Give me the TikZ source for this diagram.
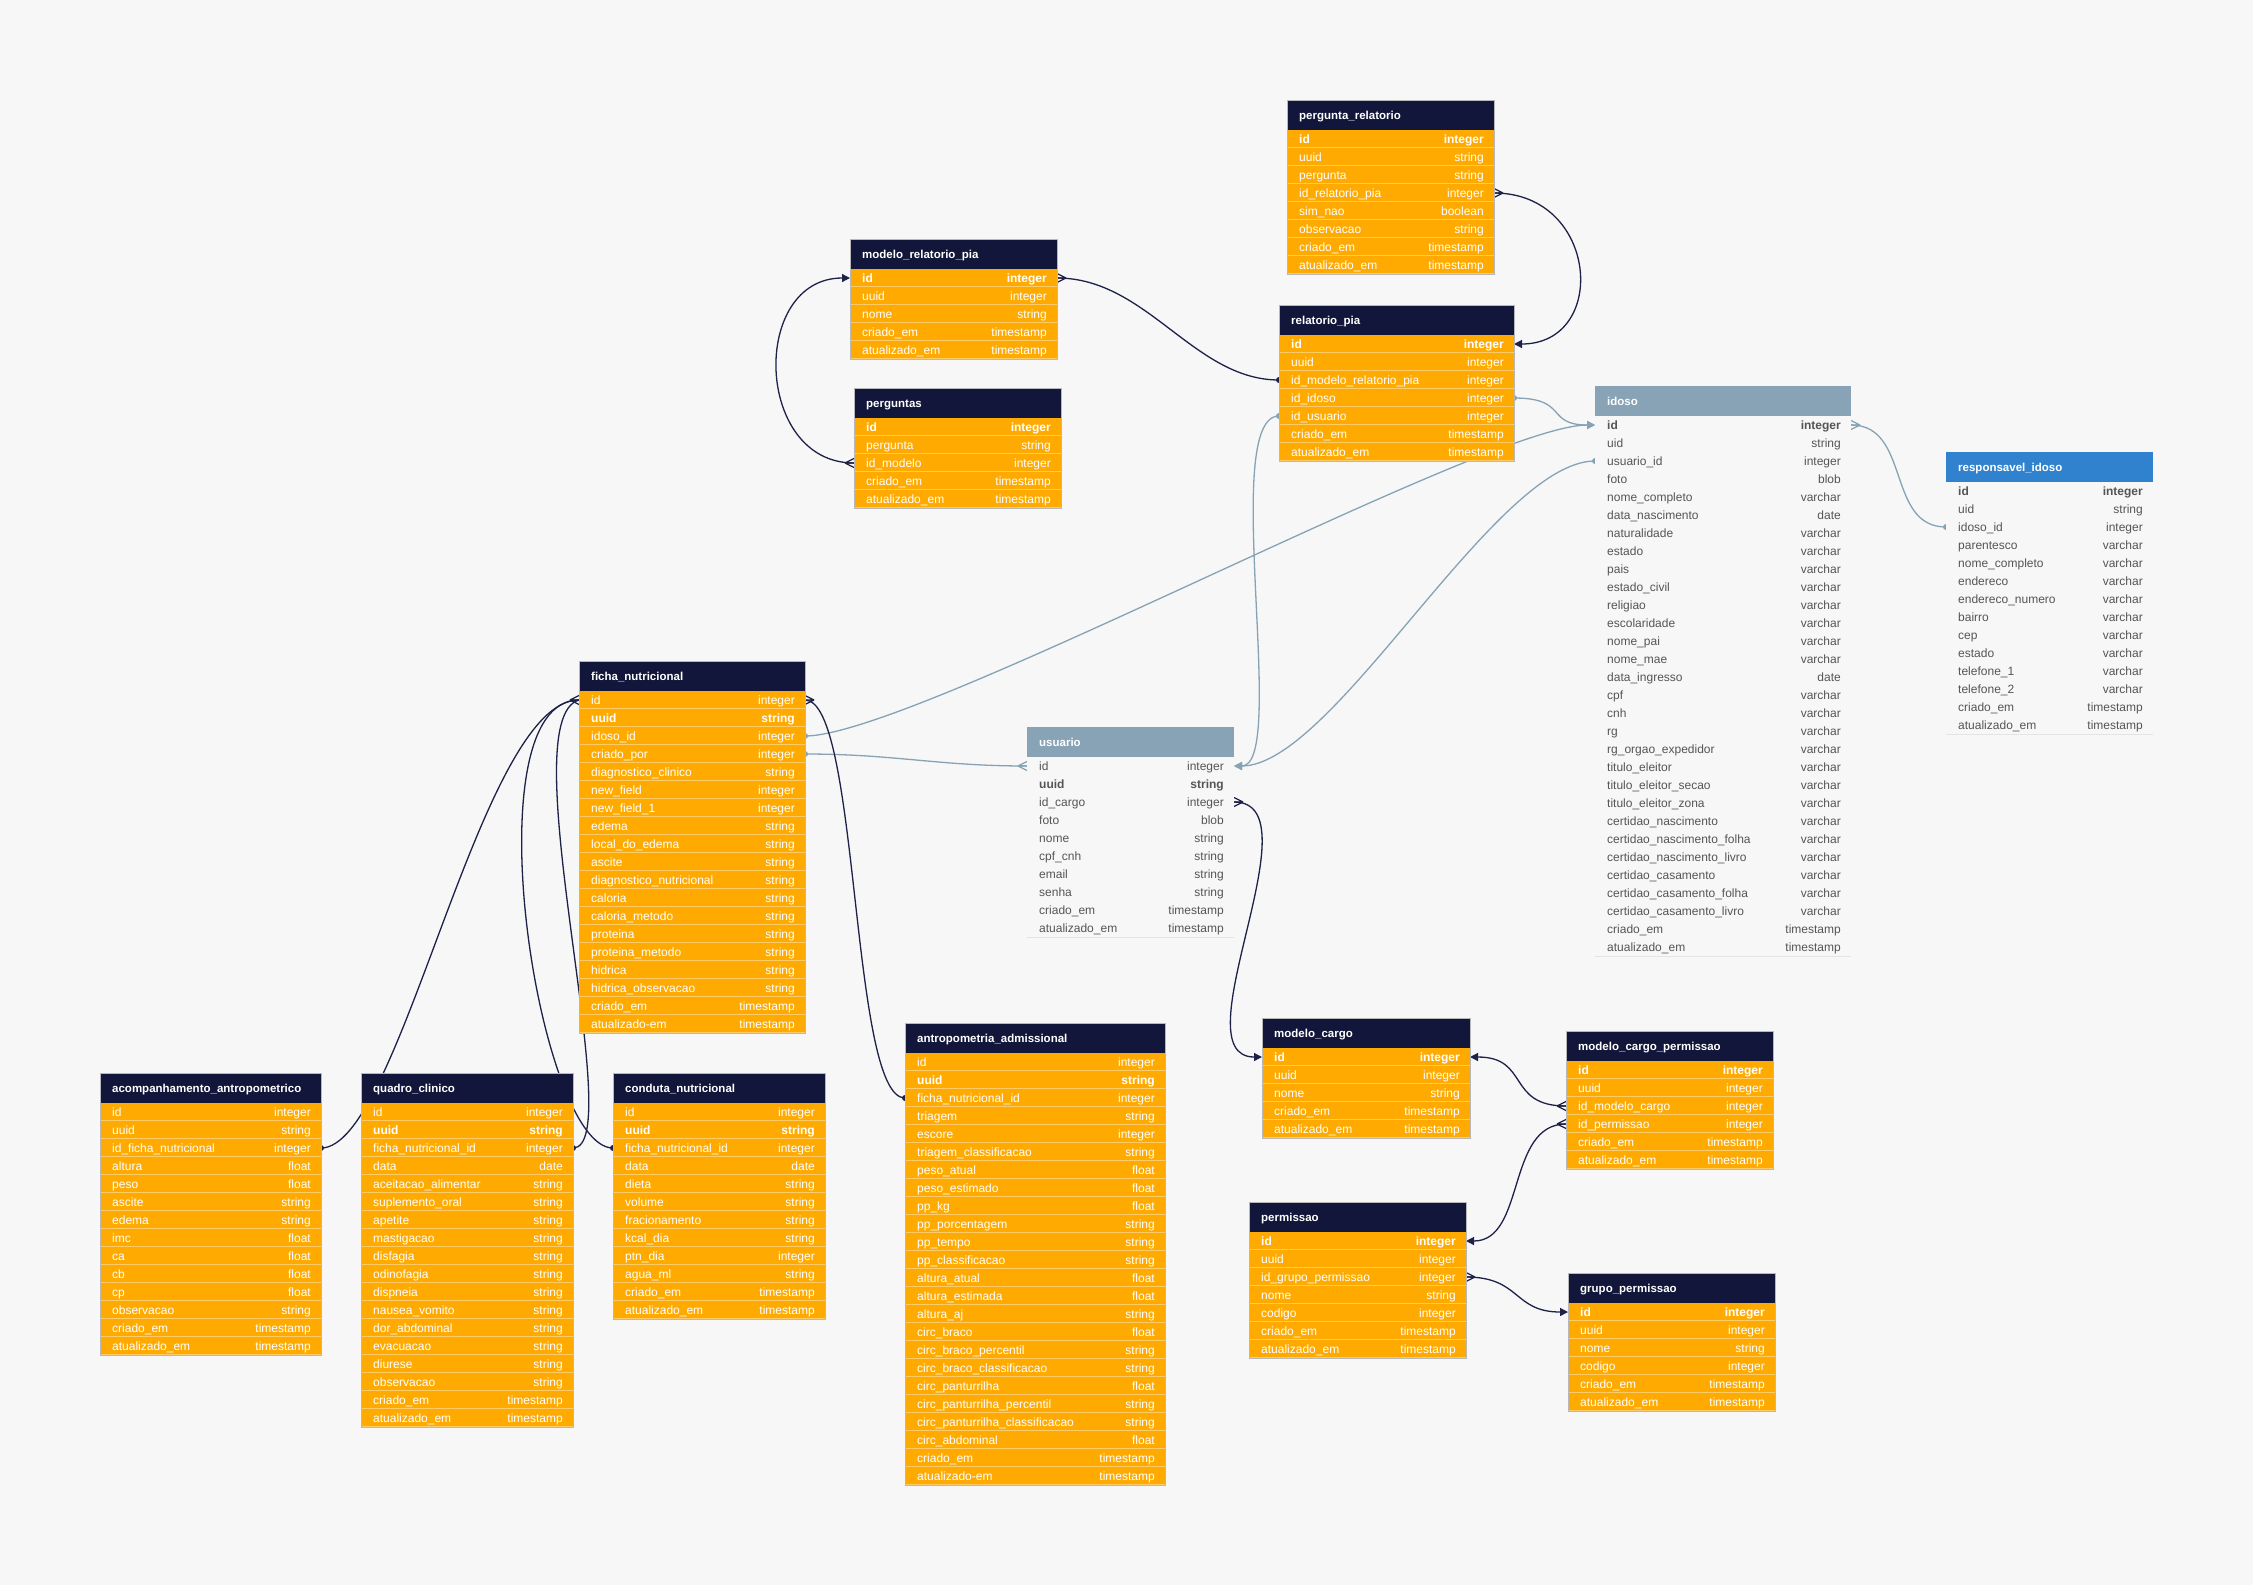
\documentclass[tikz,border=0pt]{standalone}
\usepackage{fontspec}
\setmainfont{Liberation Sans}
\usetikzlibrary{arrows.meta,calc}
\pgfdeclarelayer{back}
\pgfdeclarelayer{bg}
\pgfsetlayers{back,bg,main}
\definecolor{bgc}{HTML}{F7F7F7}
\definecolor{navy}{HTML}{12163A}
\definecolor{orng}{HTML}{FFAA00}
\definecolor{osep}{HTML}{FFCB66}
\definecolor{gbh}{HTML}{87A3B5}
\definecolor{blh}{HTML}{3182CE}
\definecolor{lsep}{HTML}{E4E4E4}
\definecolor{ltxt}{HTML}{555555}
\definecolor{dkl}{HTML}{1E2148}
\definecolor{gbl}{HTML}{86A2B4}
\newcommand\rfb{\fontsize{12}{14}\selectfont\bfseries}
\newcommand\rfn{\fontsize{12}{14}\selectfont}
\tikzset{
  hdo/.style={fill=navy}, hdg/.style={fill=gbh}, hdb/.style={fill=blh},
  rwo/.style={fill=orng}, rwg/.style={fill=bgc}, rwb/.style={fill=bgc},
  txo/.style={text=white}, txg/.style={text=ltxt}, txb/.style={text=ltxt},
  sepo/.style={draw=osep,line width=1.2pt},
  sepg/.style={draw=lsep,line width=1pt},
  sepb/.style={draw=lsep,line width=1pt},
  frmo/.style={draw=black!28,line width=0.8pt},
  frmg/.style={draw=none}, frmb/.style={draw=none},
  box/.style={rectangle,inner sep=0pt,outer sep=0pt},
  ttl/.style={text=white,font=\fontsize{11.5}{14}\selectfont\bfseries,inner sep=0pt,anchor=base west},
  cell/.style={inner sep=0pt},
  dk/.style={draw=dkl,line width=1.3pt},
  lb/.style={draw=gbl,line width=1.3pt},
  arr/.style={-{Triangle[length=8pt,width=8pt]}},
  crowR/.pic={\draw (9,0) -- (0,-4.5) (9,0) -- (0,0) (9,0) -- (0,4.5);},
  crowL/.pic={\draw (-9,0) -- (0,-4.5) (-9,0) -- (0,0) (-9,0) -- (0,4.5);},
  cfd/.style={color=dkl,line width=1.2pt},
  cfl/.style={color=gbl,line width=1.2pt}
}
% #1 name, #2 x, #3 y, #4 width, #5 kind, #6 title, #7 rows
\newcommand\ert[7]{%
  \node[box,hd#5,minimum width=#4pt,minimum height=30pt,anchor=north west] (#1) at (#2,#3) {};
  \node[ttl] (#1-t) at ($(#1.west)+(12,4)$) {#6};
  \foreach \fn/\ft/\fb [count=\i] in {#7} {%
    \pgfmathsetmacro\ry{#3+30+18*(\i-1)}%
    \node[box,rw#5,minimum width=#4pt,minimum height=18pt,anchor=north west] (#1-\i) at (#2,\ry) {};
    \draw[sep#5] (#1-\i.south west) -- (#1-\i.south east);
    \node[cell,tx#5,font=\csname rf\fb\endcsname,anchor=base west] (#1-\i-n) at ($(#1-\i.west)+(12,4.3)$) {\fn};
    \node[cell,tx#5,font=\csname rf\fb\endcsname,anchor=base east] (#1-\i-v) at ($(#1-\i.east)+(-10,4.3)$) {\ft};
    \xdef\lastrow{\i}%
  }
  \draw[frm#5] (#1.north west) rectangle (#1-\lastrow.south east);
}
\begin{document}
\begin{tikzpicture}[x=1pt,y=-1pt]
\begin{pgfonlayer}{back}
\fill[bgc] (0,0) rectangle (2253,1585);
\end{pgfonlayer}
\useasboundingbox (0,0) rectangle (2253,1585);

\ert{pr}{1287}{100}{207}{o}{pergunta\_relatorio}{id/integer/b,uuid/string/n,pergunta/string/n,id\_relatorio\_pia/integer/n,sim\_nao/boolean/n,observacao/string/n,criado\_em/timestamp/n,atualizado\_em/timestamp/n}

\ert{rp}{1279}{305}{235}{o}{relatorio\_pia}{id/integer/b,uuid/integer/n,id\_modelo\_relatorio\_pia/integer/n,id\_idoso/integer/n,id\_usuario/integer/n,criado\_em/timestamp/n,atualizado\_em/timestamp/n}

\ert{mr}{850}{239}{207}{o}{modelo\_relatorio\_pia}{id/integer/b,uuid/integer/n,nome/string/n,criado\_em/timestamp/n,atualizado\_em/timestamp/n}

\ert{pg}{854}{388}{207}{o}{perguntas}{id/integer/b,pergunta/string/n,id\_modelo/integer/n,criado\_em/timestamp/n,atualizado\_em/timestamp/n}

\ert{id}{1595}{386}{256}{g}{idoso}{id/integer/b,uid/string/n,usuario\_id/integer/n,foto/blob/n,nome\_completo/varchar/n,data\_nascimento/date/n,naturalidade/varchar/n,estado/varchar/n,pais/varchar/n,estado\_civil/varchar/n,religiao/varchar/n,escolaridade/varchar/n,nome\_pai/varchar/n,nome\_mae/varchar/n,data\_ingresso/date/n,cpf/varchar/n,cnh/varchar/n,rg/varchar/n,rg\_orgao\_expedidor/varchar/n,titulo\_eleitor/varchar/n,titulo\_eleitor\_secao/varchar/n,titulo\_eleitor\_zona/varchar/n,certidao\_nascimento/varchar/n,certidao\_nascimento\_folha/varchar/n,certidao\_nascimento\_livro/varchar/n,certidao\_casamento/varchar/n,certidao\_casamento\_folha/varchar/n,certidao\_casamento\_livro/varchar/n,criado\_em/timestamp/n,atualizado\_em/timestamp/n}

\ert{ri}{1946}{452}{207}{b}{responsavel\_idoso}{id/integer/b,uid/string/n,idoso\_id/integer/n,parentesco/varchar/n,nome\_completo/varchar/n,endereco/varchar/n,endereco\_numero/varchar/n,bairro/varchar/n,cep/varchar/n,estado/varchar/n,telefone\_1/varchar/n,telefone\_2/varchar/n,criado\_em/timestamp/n,atualizado\_em/timestamp/n}

\ert{fn}{579}{661}{226}{o}{ficha\_nutricional}{id/integer/n,uuid/string/b,idoso\_id/integer/n,criado\_por/integer/n,diagnostico\_clinico/string/n,new\_field/integer/n,new\_field\_1/integer/n,edema/string/n,local\_do\_edema/string/n,ascite/string/n,diagnostico\_nutricional/string/n,caloria/string/n,caloria\_metodo/string/n,proteina/string/n,proteina\_metodo/string/n,hidrica/string/n,hidrica\_observacao/string/n,criado\_em/timestamp/n,atualizado-em/timestamp/n}

\ert{us}{1027}{727}{207}{g}{usuario}{id/integer/n,uuid/string/b,id\_cargo/integer/n,foto/blob/n,nome/string/n,cpf\_cnh/string/n,email/string/n,senha/string/n,criado\_em/timestamp/n,atualizado\_em/timestamp/n}

\ert{aa}{100}{1073}{221}{o}{acompanhamento\_antropometrico}{id/integer/n,uuid/string/n,id\_ficha\_nutricional/integer/n,altura/float/n,peso/float/n,ascite/string/n,edema/string/n,imc/float/n,ca/float/n,cb/float/n,cp/float/n,observacao/string/n,criado\_em/timestamp/n,atualizado\_em/timestamp/n}

\ert{qc}{361}{1073}{212}{o}{quadro\_clinico}{id/integer/n,uuid/string/b,ficha\_nutricional\_id/integer/n,data/date/n,aceitacao\_alimentar/string/n,suplemento\_oral/string/n,apetite/string/n,mastigacao/string/n,disfagia/string/n,odinofagia/string/n,dispneia/string/n,nausea\_vomito/string/n,dor\_abdominal/string/n,evacuacao/string/n,diurese/string/n,observacao/string/n,criado\_em/timestamp/n,atualizado\_em/timestamp/n}

\ert{cn}{613}{1073}{212}{o}{conduta\_nutricional}{id/integer/n,uuid/string/b,ficha\_nutricional\_id/integer/n,data/date/n,dieta/string/n,volume/string/n,fracionamento/string/n,kcal\_dia/string/n,ptn\_dia/integer/n,agua\_ml/string/n,criado\_em/timestamp/n,atualizado\_em/timestamp/n}

\ert{ad}{905}{1023}{260}{o}{antropometria\_admissional}{id/integer/n,uuid/string/b,ficha\_nutricional\_id/integer/n,triagem/string/n,escore/integer/n,triagem\_classificacao/string/n,peso\_atual/float/n,peso\_estimado/float/n,pp\_kg/float/n,pp\_porcentagem/string/n,pp\_tempo/string/n,pp\_classificacao/string/n,altura\_atual/float/n,altura\_estimada/float/n,altura\_aj/string/n,circ\_braco/float/n,circ\_braco\_percentil/string/n,circ\_braco\_classificacao/string/n,circ\_panturrilha/float/n,circ\_panturrilha\_percentil/string/n,circ\_panturrilha\_classificacao/string/n,circ\_abdominal/float/n,criado\_em/timestamp/n,atualizado-em/timestamp/n}

\ert{mc}{1262}{1018}{208}{o}{modelo\_cargo}{id/integer/b,uuid/integer/n,nome/string/n,criado\_em/timestamp/n,atualizado\_em/timestamp/n}

\ert{mp}{1566}{1031}{207}{o}{modelo\_cargo\_permissao}{id/integer/b,uuid/integer/n,id\_modelo\_cargo/integer/n,id\_permissao/integer/n,criado\_em/timestamp/n,atualizado\_em/timestamp/n}

\ert{pe}{1249}{1202}{217}{o}{permissao}{id/integer/b,uuid/integer/n,id\_grupo\_permissao/integer/n,nome/string/n,codigo/integer/n,criado\_em/timestamp/n,atualizado\_em/timestamp/n}

\ert{gp}{1568}{1273}{207}{o}{grupo\_permissao}{id/integer/b,uuid/integer/n,nome/string/n,codigo/integer/n,criado\_em/timestamp/n,atualizado\_em/timestamp/n}

\begin{pgfonlayer}{bg}
% pergunta_relatorio -> relatorio_pia
\draw[dk,arr] (pr-4.east) .. controls +(105,0) and +(95,0) .. (rp-1.east);
\pic[cfd] at (pr-4.east) {crowR};
% modelo_relatorio_pia -> relatorio_pia
\draw[dk] (mr-1.east) .. controls +(90,0) and +(-85,0) .. (rp-3.west);
\pic[cfd] at (mr-1.east) {crowR};
\fill[dkl] (rp-3.west) circle[radius=3pt];
% perguntas -> modelo_relatorio_pia
\draw[dk,arr] (pg-3.west) .. controls +(-100,0) and +(-100,0) .. (mr-1.west);
\pic[cfd] at (pg-3.west) {crowL};
% relatorio_pia -> idoso
\draw[lb,arr] (rp-4.east) .. controls +(55,0) and +(-50,0) .. (id-1.west);
\fill[gbl] (rp-4.east) circle[radius=3pt];
% relatorio_pia -> usuario
\draw[lb,arr] (rp-5.west) .. controls +(-60,0) and +(55,0) .. (us-1.east);
\fill[gbl] (rp-5.west) circle[radius=3pt];
% idoso -> usuario
\draw[lb,arr] (id-3.west) .. controls +(-100,0) and +(100,0) .. (us-1.east);
\fill[gbl] (id-3.west) circle[radius=3pt];
% ficha -> idoso
\draw[lb,arr] (fn-3.east) .. controls +(110,0) and +(-110,0) .. (id-1.west);
\fill[gbl] (fn-3.east) circle[radius=3pt];
% ficha -> usuario
\draw[lb] (fn-4.east) .. controls +(90,0) and +(-90,0) .. (us-1.west);
\fill[gbl] (fn-4.east) circle[radius=3pt];
\pic[cfl] at (us-1.west) {crowL};
% idoso -> responsavel_idoso
\draw[lb] (id-1.east) .. controls +(60,0) and +(-60,0) .. (ri-3.west);
\pic[cfl] at (id-1.east) {crowR};
\fill[gbl] (ri-3.west) circle[radius=3pt];
% usuario -> modelo_cargo
\draw[dk,arr] (us-3.east) .. controls +(85,0) and +(-85,0) .. (mc-1.west);
\pic[cfd] at (us-3.east) {crowR};
% modelo_cargo_permissao -> modelo_cargo / permissao
\draw[dk,arr] (mp-3.west) .. controls +(-60,0) and +(60,0) .. (mc-1.east);
\pic[cfd] at (mp-3.west) {crowL};
\draw[dk,arr] (mp-4.west) .. controls +(-60,0) and +(60,0) .. (pe-1.east);
\pic[cfd] at (mp-4.west) {crowL};
% permissao -> grupo_permissao
\draw[dk,arr] (pe-3.east) .. controls +(55,0) and +(-55,0) .. (gp-1.west);
\pic[cfd] at (pe-3.east) {crowR};
% ficha -> antropometria
\draw[dk] (fn-1.east) .. controls +(55,0) and +(-55,0) .. (ad-3.west);
\pic[cfd] at (fn-1.east) {crowR};
\fill[dkl] (ad-3.west) circle[radius=3pt];
% ficha -> acompanhamento, conduta, quadro
\draw[dk] (fn-1.west) .. controls +(-100,0) and +(80,0) .. (aa-3.east);
\fill[dkl] (aa-3.east) circle[radius=3pt];
\draw[dk] (fn-1.west) .. controls +(-110,0) and +(-75,0) .. (cn-3.west);
\fill[dkl] (cn-3.west) circle[radius=3pt];
\draw[dk] (fn-1.west) .. controls +(-70,20) and +(57,0) .. (qc-3.east);
\fill[dkl] (qc-3.east) circle[radius=3pt];
\pic[cfd] at (fn-1.west) {crowL};
\end{pgfonlayer}
\end{tikzpicture}
\end{document}
